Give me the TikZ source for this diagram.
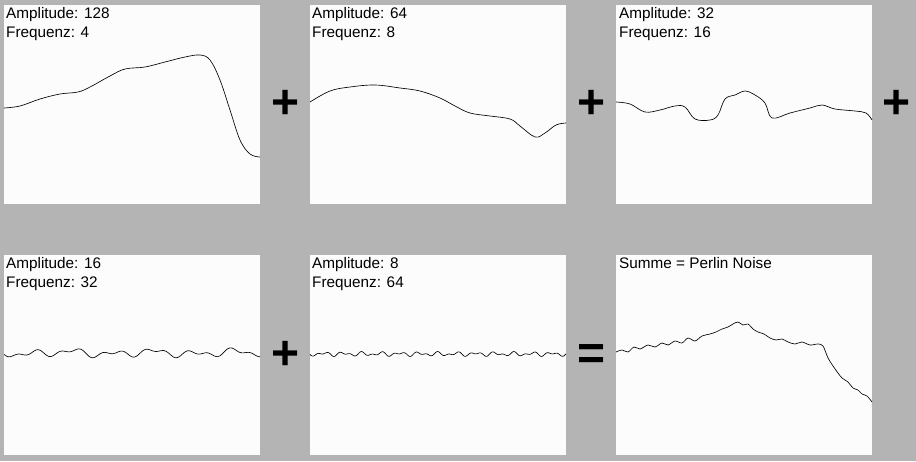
\documentclass[tikz,border=0pt]{standalone}
\usepackage{fontspec}
\setmainfont{Liberation Sans}
\begin{document}
\begin{tikzpicture}[x=1pt,y=-1pt,
  panel/.style={fill=white!98!gray,draw=none},
  lab/.style={anchor=north west,inner sep=0pt,font=\fontsize{15.3}{19.5}\selectfont,align=left},
  op/.style={font=\fontsize{48}{48}\selectfont\bfseries,inner sep=0pt},
  crv/.style={black,line width=0.65pt}]
\fill[fill={rgb,255:red,180;green,180;blue,180}] (0,0) rectangle (916,461);
\useasboundingbox (0,0) rectangle (916,461);
\fill[panel] (4,5) rectangle (260,204);
\fill[panel] (310,5) rectangle (566,204);
\fill[panel] (616,5) rectangle (872,204);
\fill[panel] (4,255) rectangle (260,455);
\fill[panel] (310,255) rectangle (566,455);
\fill[panel] (616,255) rectangle (872,455);
\node[lab] (t1) at (6,7) {Amplitude: 128\\Frequenz: 4};
\node[lab] (t2) at (312,7) {Amplitude: 64\\Frequenz: 8};
\node[lab] (t3) at (619,7) {Amplitude: 32\\Frequenz: 16};
\node[lab] (t4) at (6,257) {Amplitude: 16\\Frequenz: 32};
\node[lab] (t5) at (312,257) {Amplitude: 8\\Frequenz: 64};
\node[lab] (t6) at (619,257) {Summe = Perlin Noise};
\node[op] (p1) at (286,104) {+};
\node[op] (p2) at (592,104) {+};
\node[op] (p3) at (897,104) {+};
\node[op] (p4) at (286,355) {+};
\node[op] (p5) at (592,357) {=};
\draw[crv] plot[smooth,tension=0.6] coordinates {(4,108) (20,106) (40,99) (60,94) (78,92) (90,87) (110,76) (125,69) (145,67) (165,62) (185,57) (200,55) (210,60) (220,80) (230,110) (240,140) (250,154) (260,157)};
\draw[crv] plot[smooth,tension=0.6] coordinates {(310,102) (330,91) (350,87) (375,85) (400,88) (420,91) (440,98) (455,106) (470,113) (490,116) (510,119) (520,126) (535,137) (545,133) (556,125) (566,123)};
\draw[crv] plot[smooth,tension=0.6] coordinates {(616,102) (630,104) (645,112) (660,110) (675,106) (685,107) (695,119) (710,120) (718,115) (725,99) (735,95) (745,91) (755,95) (765,103) (772,118) (790,113) (810,108) (822,105) (835,109) (855,111) (866,113) (872,120)};
\draw[crv] plot[domain=0:256,samples=200,smooth] ({\x+4},{353+2.5*sin(\x*9)+2*sin(\x*17+40)+1.2*sin(\x*4.3)});
\draw[crv] plot[domain=0:256,samples=300,smooth] ({\x+310},{354+1.3*sin(\x*19)+1.2*sin(\x*33+20)});
\draw[crv] plot[smooth,tension=0.5] coordinates {(616,352) (622,350) (628,352) (634,347) (640,349) (648,345) (655,347) (662,343) (668,345) (675,341) (682,343) (688,338) (695,341) (702,336) (710,334) (716,332) (722,329) (728,327) (733,324) (738,322) (743,325) (748,324) (753,329) (758,332) (764,334) (770,338) (776,340) (782,339) (788,342) (795,344) (802,342) (810,345) (818,344) (823,346) (828,358) (833,366) (838,373) (842,378) (848,382) (853,388) (858,390) (862,394) (867,396) (872,402)};
\end{tikzpicture}
\end{document}
